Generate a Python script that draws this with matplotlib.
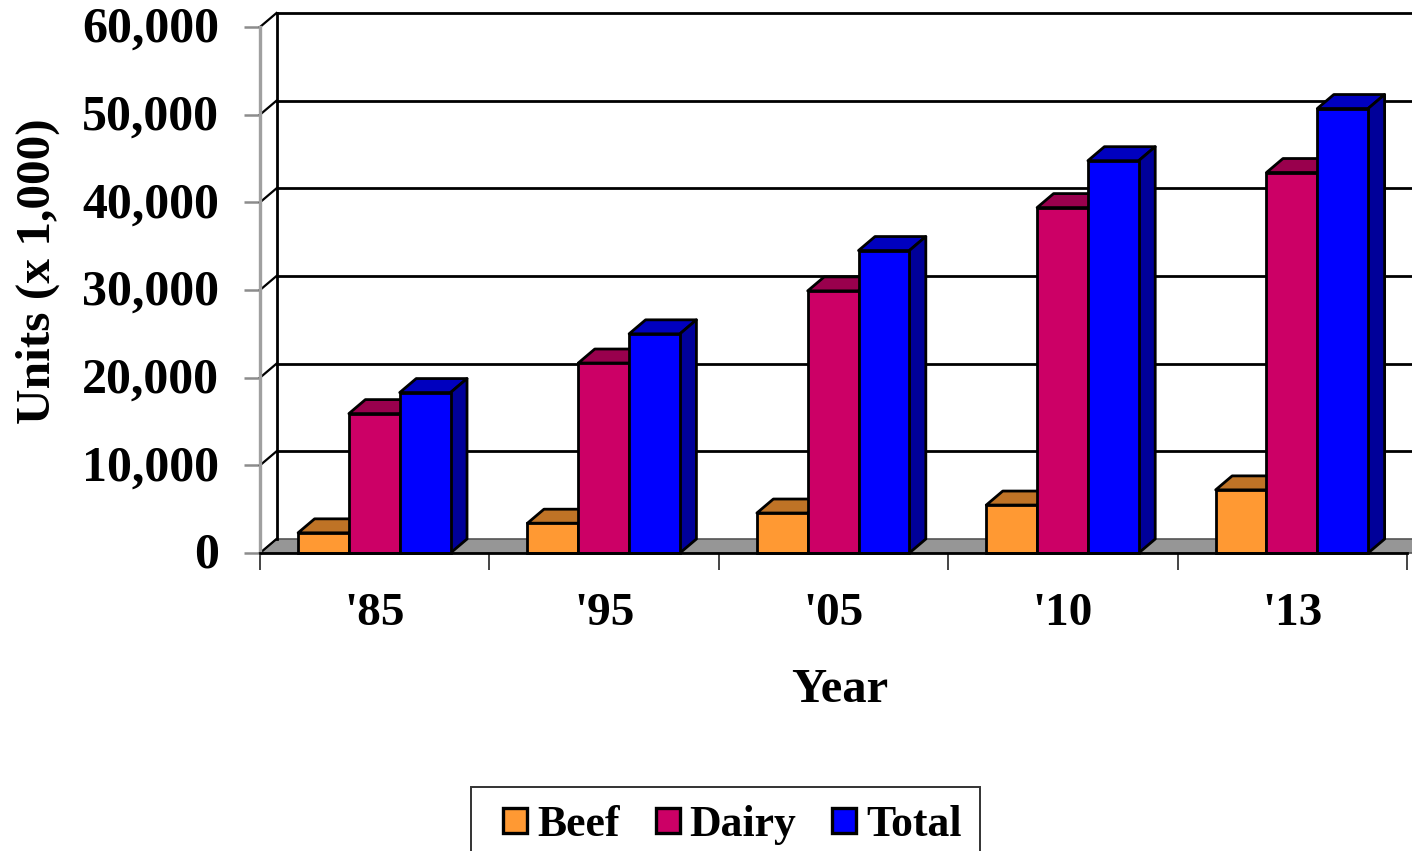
import matplotlib
matplotlib.use('Agg')
import numpy as np
import matplotlib.pyplot as plt
from matplotlib.patches import Patch, Polygon, Rectangle
from matplotlib.transforms import ScaledTranslation

plt.rcParams['font.family'] = ['Liberation Serif', 'DejaVu Serif']
plt.rcParams['font.weight'] = 'bold'

years = ["'85", "'95", "'05", "'10", "'13"]
beef = [2300, 3400, 4560, 5470, 7200]
dairy = [15900, 21670, 29900, 39400, 43400]
total = [18300, 25000, 34500, 44750, 50700]
yticks = [0, 10000, 20000, 30000, 40000, 50000, 60000]

names = ['Beef', 'Dairy', 'Total']
front = ['#FF9933', '#CC0066', '#0000FF']
top = ['#BF7326', '#99004D', '#0000BF']
side = ['#BF7326', '#99004D', '#000099']

W, H = 1412, 851
fig = plt.figure(figsize=(W / 100, H / 100), dpi=100)
ax = fig.add_axes([260 / W, (H - 553) / H, 1147 / W, 526 / H])
ax.set_xlim(0, 5)
ax.set_ylim(0, 60000)

# depth of the fake 3d box, in data units
dx = 16.5 / 229.4
dy = 14 * 60000 / 526
bar_w = 0.2215
start = 0.166
xmax = 5.03
lw = 2.0


def poly(pts, fc, z, ec='black', lw=lw):
    ax.add_patch(Polygon(pts, closed=True, fc=fc, ec=ec, lw=lw, zorder=z,
                         clip_on=False, joinstyle='round'))


# floor and walls
poly([(0, 0), (dx, dy), (xmax, dy), (xmax, 0)], '#969696', 1, ec='#555555', lw=1.2)
ax.plot([dx, dx], [dy, 60000 + dy], color='black', lw=lw, zorder=2, clip_on=False)
for t in yticks:
    ax.plot([0, dx], [t, t + dy], color='black', lw=1.6, zorder=2, clip_on=False)
    if t > 0:
        ax.plot([dx, xmax], [t + dy, t + dy], color='black', lw=lw, zorder=2, clip_on=False)

# bars
z = 3
for i in range(len(years)):
    for j, vals in enumerate([beef, dairy, total]):
        x0 = i + start + j * bar_w
        x1 = x0 + bar_w
        v = vals[i]
        poly([(x0, v), (x0 + dx, v + dy), (x1 + dx, v + dy), (x1, v)], top[j], z)
        poly([(x1, 0), (x1 + dx, dy), (x1 + dx, v + dy), (x1, v)], side[j], z)
        ax.bar(x0, v, width=bar_w, align='edge', color=front[j], edgecolor='black',
               linewidth=lw, zorder=z + 1, clip_on=False)
        z += 2

for s in ['top', 'right']:
    ax.spines[s].set_visible(False)
ax.spines['left'].set_color('#A0A0A0')
ax.spines['left'].set_linewidth(2.4)
ax.spines['bottom'].set_color('black')
ax.spines['bottom'].set_linewidth(lw)
ax.spines['bottom'].set_zorder(100)

ax.set_yticks(yticks)
ax.set_yticklabels([f'{t:,}' for t in yticks], fontsize=36, fontweight='bold')
ax.set_xticks(np.arange(0, 6))
ax.set_xticklabels([])
ax.set_xticks(np.arange(0.5, 5), minor=True)
ax.set_xticklabels(years, minor=True, fontsize=34, fontweight='bold')
ax.tick_params(axis='y', length=11.5, width=1.8, color='#8C8C8C', pad=18)
ax.tick_params(axis='x', which='major', length=12, width=1.4, color='#444444')
ax.tick_params(axis='x', which='minor', length=0, pad=29)

# the y labels sit a little high on their ticks
shift = ScaledTranslation(0, 2.5 / 100, fig.dpi_scale_trans)
for lab in ax.get_yticklabels():
    lab.set_transform(lab.get_transform() + shift)

ax.set_xlabel('Year', fontsize=35, fontweight='bold', va='center')
ax.xaxis.set_label_coords(0.5057, -137 / 526)
ax.set_ylabel('Units (x 1,000)', fontsize=35.5, fontweight='bold', va='center')
ax.yaxis.set_label_coords(-222 / 1147, 282 / 526)

# legend box runs off the bottom of the picture
fig.add_artist(Rectangle((471 / W, -0.01), 509 / W, (H - 787) / H + 0.01,
                         transform=fig.transFigure, fc='white', ec='#333333', lw=1.4))
handles = [Patch(fc=c, ec='black', lw=2.4) for c in front]
leg = fig.legend(handles, names, ncol=3, loc='center left',
                 bbox_to_anchor=(503 / W, (H - 825) / H), bbox_transform=fig.transFigure,
                 prop={'size': 31.5, 'weight': 'bold'}, frameon=False,
                 borderaxespad=0, borderpad=0,
                 handlelength=0.55, handleheight=0.5, handletextpad=0.23,
                 columnspacing=0.82, labelspacing=0)
leg.set_zorder(5)

plt.savefig('out.png', dpi=100)
